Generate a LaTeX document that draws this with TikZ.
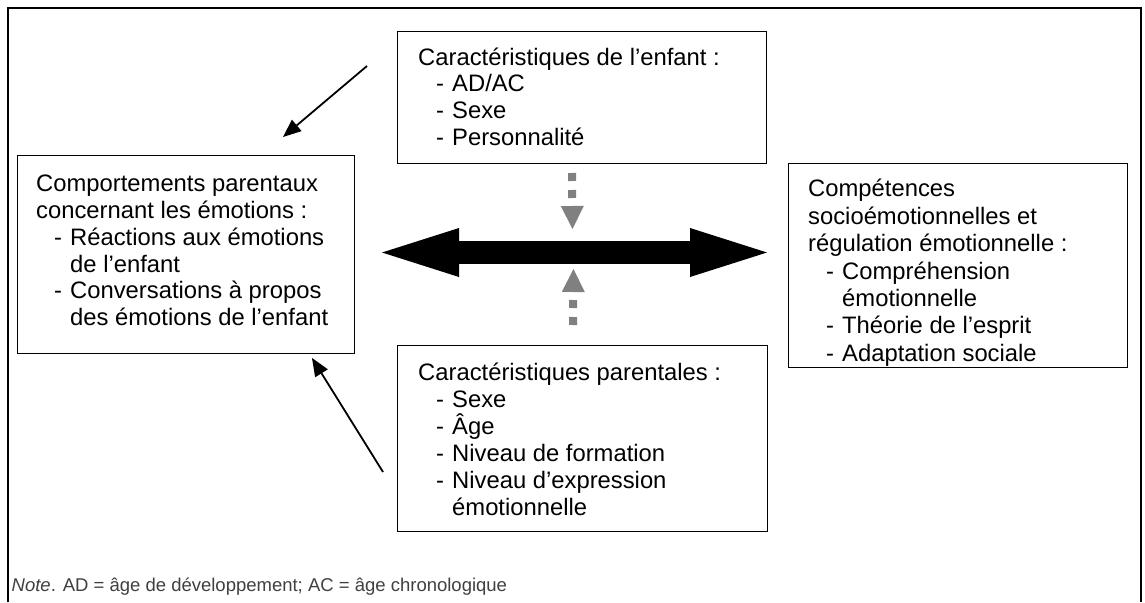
\documentclass[tikz,border=0pt]{standalone}
\usepackage{fontspec}
\setmainfont{Liberation Sans}
\usetikzlibrary{arrows.meta,calc}
\definecolor{notegray}{RGB}{64,64,64}
\definecolor{dotgray}{RGB}{128,128,128}
\newcommand\itm[1]{\hspace*{18pt}\makebox[16pt][l]{-}#1}
\newcommand\cnt[1]{\hspace*{34pt}#1}
\begin{document}
\begin{tikzpicture}[x=1pt,y=-1pt,
  box/.style={draw=black, line width=1.3pt, anchor=north west, inner sep=0pt},
  txt/.style={anchor=north west, inner sep=0pt, align=left},
  bigarrow/.style={line width=23pt, {Triangle[length=77pt,width=49pt,line width=0pt]}-{Triangle[length=77pt,width=49pt,line width=0pt]}},
  dotarrow/.style={draw=dotgray, line width=8pt, dash pattern=on 8pt off 9pt, -{Triangle[length=23pt,width=23pt,line width=0pt]}},
  thinarrow/.style={line width=1.8pt, -{Triangle[length=18pt,width=15pt,line width=0pt]}}
]
\useasboundingbox (0,0) rectangle (1145,602);
\fill[white] (0,0) rectangle (1145,602);
% outer frame
\draw[line width=2pt] (7.7,602) -- (7.7,7.7) -- (1141,7.7) -- (1141,602);

% boxes
\node[box, minimum width=369pt, minimum height=132pt] (child) at (397,31) {};
\node[box, minimum width=337pt, minimum height=198pt] (parent) at (17,155) {};
\node[box, minimum width=339pt, minimum height=204pt] (comp) at (788,163) {};
\node[box, minimum width=370pt, minimum height=186pt] (par) at (397,345) {};

% texts
\node[txt, font=\fontsize{23.8pt}{26.7pt}\selectfont] (childtxt) at ($(child.north west)+(21,14)$)
  {\rule{0pt}{20pt}Caractéristiques de l’enfant :\\
   \itm{AD/AC}\\
   \itm{Sexe}\\
   \itm{Personnalité}};
\node[txt, font=\fontsize{23.8pt}{26.7pt}\selectfont] (parenttxt) at ($(parent.north west)+(19,16.7)$)
  {\rule{0pt}{20pt}Comportements parentaux\\
   concernant les émotions :\\
   \itm{Réactions aux émotions}\\
   \cnt{de l’enfant}\\
   \itm{Conversations à propos}\\
   \cnt{des émotions de l’enfant}};
\node[txt, font=\fontsize{23.8pt}{27.4pt}\selectfont] (comptxt) at ($(comp.north west)+(20,13.7)$)
  {\rule{0pt}{20pt}Compétences\\
   socioémotionnelles et\\
   régulation émotionnelle :\\
   \itm{Compréhension}\\
   \cnt{émotionnelle}\\
   \itm{Théorie de l’esprit}\\
   \itm{Adaptation sociale}};
\node[txt, font=\fontsize{23.8pt}{27pt}\selectfont] (partxt) at ($(par.north west)+(21,15)$)
  {\rule{0pt}{20pt}Caractéristiques parentales :\\
   \itm{Sexe}\\
   \itm{Âge}\\
   \itm{Niveau de formation}\\
   \itm{Niveau d’expression}\\
   \cnt{émotionnelle}};

% big double arrow
\coordinate (bl) at (382,252.5);
\coordinate (br) at (767,252.5);
\draw[bigarrow] (bl) -- (br);

% gray dotted arrows
\coordinate (gt1) at (572,173);
\coordinate (gt2) at (572.5,229);
\draw[dotarrow] (gt1) -- (gt2);
\coordinate (gb1) at (573,325);
\coordinate (gb2) at (573.5,269);
\draw[dotarrow] (gb1) -- (gb2);

% diagonal arrows
\coordinate (d1s) at (367,66);
\coordinate (d1e) at (283,137);
\draw[thinarrow] (d1s) -- (d1e);
\coordinate (d2s) at (383,472);
\coordinate (d2e) at (312,358);
\draw[thinarrow] (d2s) -- (d2e);

% note
\node[anchor=base west, inner sep=0pt, text=notegray, font=\fontsize{18.5pt}{22pt}\selectfont] (note) at (11.5,591)
  {\textit{Note}. AD = âge de développement; AC = âge chronologique};
\end{tikzpicture}
\end{document}
